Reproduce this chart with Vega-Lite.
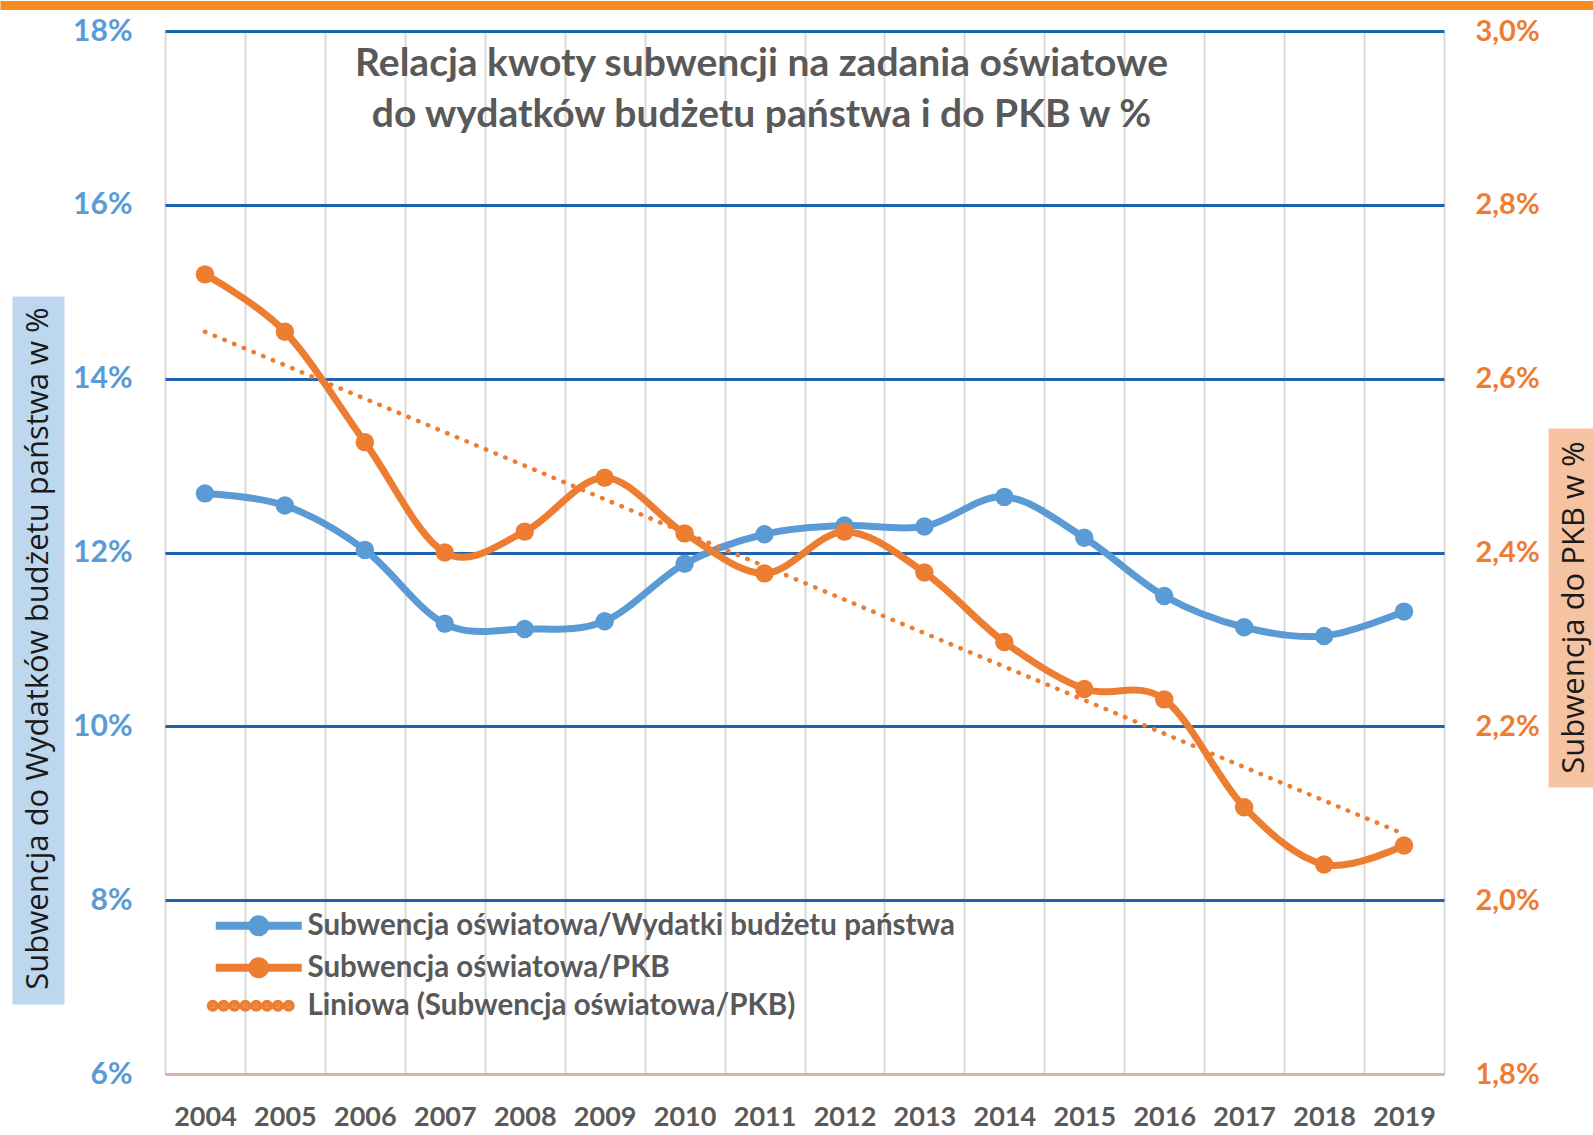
{
  "$schema": "https://vega.github.io/schema/vega-lite/v6.json",
  "width": 1279,
  "height": 1043,
  "autosize": {"type": "none"},
  "padding": {"left": 165, "top": 31, "right": 149, "bottom": 61},
  "background": "white",
  "config": {
    "view": {"stroke": null},
    "font": "Lato",
    "legend": {"symbolLimit": 0}
  },
  "title": {
    "text": ["Relacja kwoty subwencji na zadania oświatowe", "do wydatków budżetu państwa i do PKB w %"],
    "font": "Lato",
    "fontSize": 39,
    "fontWeight": "bold",
    "color": "#595959",
    "anchor": "middle",
    "frame": "group",
    "orient": "top",
    "offset": -134,
    "dx": -43,
    "lineHeight": 51
  },
  "data": {
    "values": [
      {"year": 2004, "series": "Subwencja oświatowa/Wydatki budżetu państwa", "value": 12.68},
      {"year": 2005, "series": "Subwencja oświatowa/Wydatki budżetu państwa", "value": 12.54},
      {"year": 2006, "series": "Subwencja oświatowa/Wydatki budżetu państwa", "value": 12.03},
      {"year": 2007, "series": "Subwencja oświatowa/Wydatki budżetu państwa", "value": 11.18},
      {"year": 2008, "series": "Subwencja oświatowa/Wydatki budżetu państwa", "value": 11.12},
      {"year": 2009, "series": "Subwencja oświatowa/Wydatki budżetu państwa", "value": 11.21},
      {"year": 2010, "series": "Subwencja oświatowa/Wydatki budżetu państwa", "value": 11.87},
      {"year": 2011, "series": "Subwencja oświatowa/Wydatki budżetu państwa", "value": 12.21},
      {"year": 2012, "series": "Subwencja oświatowa/Wydatki budżetu państwa", "value": 12.31},
      {"year": 2013, "series": "Subwencja oświatowa/Wydatki budżetu państwa", "value": 12.30},
      {"year": 2014, "series": "Subwencja oświatowa/Wydatki budżetu państwa", "value": 12.64},
      {"year": 2015, "series": "Subwencja oświatowa/Wydatki budżetu państwa", "value": 12.17},
      {"year": 2016, "series": "Subwencja oświatowa/Wydatki budżetu państwa", "value": 11.50},
      {"year": 2017, "series": "Subwencja oświatowa/Wydatki budżetu państwa", "value": 11.14},
      {"year": 2018, "series": "Subwencja oświatowa/Wydatki budżetu państwa", "value": 11.04},
      {"year": 2019, "series": "Subwencja oświatowa/Wydatki budżetu państwa", "value": 11.32},
      {"year": 2004, "series": "Subwencja oświatowa/PKB", "value": 2.720},
      {"year": 2005, "series": "Subwencja oświatowa/PKB", "value": 2.654},
      {"year": 2006, "series": "Subwencja oświatowa/PKB", "value": 2.527},
      {"year": 2007, "series": "Subwencja oświatowa/PKB", "value": 2.400},
      {"year": 2008, "series": "Subwencja oświatowa/PKB", "value": 2.424},
      {"year": 2009, "series": "Subwencja oświatowa/PKB", "value": 2.486},
      {"year": 2010, "series": "Subwencja oświatowa/PKB", "value": 2.422},
      {"year": 2011, "series": "Subwencja oświatowa/PKB", "value": 2.376},
      {"year": 2012, "series": "Subwencja oświatowa/PKB", "value": 2.424},
      {"year": 2013, "series": "Subwencja oświatowa/PKB", "value": 2.377},
      {"year": 2014, "series": "Subwencja oświatowa/PKB", "value": 2.297},
      {"year": 2015, "series": "Subwencja oświatowa/PKB", "value": 2.243},
      {"year": 2016, "series": "Subwencja oświatowa/PKB", "value": 2.231},
      {"year": 2017, "series": "Subwencja oświatowa/PKB", "value": 2.107},
      {"year": 2018, "series": "Subwencja oświatowa/PKB", "value": 2.041},
      {"year": 2019, "series": "Subwencja oświatowa/PKB", "value": 2.063},
      {"year": 2004, "series": "Liniowa (Subwencja oświatowa/PKB)", "value": 2.654},
      {"year": 2019, "series": "Liniowa (Subwencja oświatowa/PKB)", "value": 2.076}
    ]
  },
  "layer": [
    {
      "transform": [{"filter": "datum.series === 'Subwencja oświatowa/Wydatki budżetu państwa'"}],
      "encoding": {
        "x": {
          "field": "year", "type": "ordinal", "bandPosition": 0.5,
          "scale": {"type": "band", "paddingInner": 0, "paddingOuter": 0},
          "axis": {"orient": "bottom", "tickBand": "extent", "grid": true, "gridColor": "#D9D9D9", "gridWidth": 2, "ticks": false, "domain": true, "domainColor": "#E2B0A8", "domainWidth": 3, "labelFont": "Lato", "labelFontSize": 27, "labelFontWeight": "bold", "labelColor": "#595959", "labelPadding": 30, "labelAngle": 0, "title": null, "labelOverlap": false}
        },
        "y": {
          "field": "value", "type": "quantitative",
          "scale": {"domain": [6, 18], "zero": false, "nice": false},
          "axis": {"orient": "left", "values": [6, 8, 10, 12, 14, 16, 18], "labelExpr": "datum.value + '%'", "grid": true, "gridColor": {"condition": {"test": "datum.value <= 6", "value": "transparent"}, "value": "#1F62B0"}, "gridWidth": 3, "ticks": false, "domain": false, "labelFont": "Lato", "labelFontSize": 30, "labelFontWeight": "bold", "labelColor": "#5B9BD5", "labelPadding": 33, "labelFlush": false, "labelOverlap": false, "labelBaseline": "middle", "title": null}
        }
      },
      "layer": [
        {"mark": {"type": "line", "interpolate": "cardinal", "color": "#5B9BD5", "strokeWidth": 7}},
        {"mark": {"type": "point", "filled": true, "opacity": 1, "size": 340, "color": "#5B9BD5"}}
      ]
    },
    {
      "encoding": {
        "x": {
          "field": "year", "type": "ordinal", "bandPosition": 0.5,
          "scale": {"type": "band", "paddingInner": 0, "paddingOuter": 0},
          "axis": {"orient": "bottom", "tickBand": "extent", "grid": true, "gridColor": "#D9D9D9", "gridWidth": 2, "ticks": false, "domain": true, "domainColor": "#E2B0A8", "domainWidth": 3, "labelFont": "Lato", "labelFontSize": 27, "labelFontWeight": "bold", "labelColor": "#595959", "labelPadding": 30, "labelAngle": 0, "title": null, "labelOverlap": false}
        },
        "y": {
          "field": "value", "type": "quantitative",
          "scale": {"domain": [1.8, 3.0], "zero": false, "nice": false},
          "axis": {"orient": "right", "values": [1.8, 2.0, 2.2, 2.4, 2.6, 2.8, 3.0], "labelExpr": "replace(format(datum.value, '.1f'), '.', ',') + '%'", "grid": false, "ticks": false, "domain": false, "labelFont": "Lato", "labelFontSize": 29, "labelFontWeight": "bold", "labelColor": "#ED7D31", "labelPadding": 31, "labelFlush": false, "labelOverlap": false, "labelBaseline": "middle", "title": null}
        }
      },
      "layer": [
        {
          "transform": [{"filter": "datum.series === 'Subwencja oświatowa/PKB'"}],
          "mark": {"type": "line", "interpolate": "cardinal", "color": "#ED7D31", "strokeWidth": 7}
        },
        {
          "transform": [{"filter": "datum.series === 'Subwencja oświatowa/PKB'"}],
          "mark": {"type": "point", "filled": true, "opacity": 1, "size": 340, "color": "#ED7D31"}
        },
        {
          "transform": [{"filter": "datum.series === 'Liniowa (Subwencja oświatowa/PKB)'"}],
          "mark": {"type": "line", "color": "#ED7D31", "strokeWidth": 4.5, "strokeDash": [0.5, 10], "strokeCap": "round"}
        }
      ]
    },
    {
      "mark": {"type": "point", "filled": true, "opacity": 0},
      "encoding": {
        "shape": {
          "field": "series", "type": "nominal",
          "scale": {"domain": ["Subwencja oświatowa/Wydatki budżetu państwa", "Subwencja oświatowa/PKB", "Liniowa (Subwencja oświatowa/PKB)"],
                    "range": ["M-4.3,0L4.3,0M0.65,0A0.65,0.65,0,1,1,-0.65,0A0.65,0.65,0,1,1,0.65,0Z", "M-4.3,0L4.3,0M0.65,0A0.65,0.65,0,1,1,-0.65,0A0.65,0.65,0,1,1,0.65,0Z", "M-4.4,0A0.2,0.2,0,1,1,-4.8,0A0.2,0.2,0,1,1,-4.4,0ZM-3.314,0A0.2,0.2,0,1,1,-3.714,0A0.2,0.2,0,1,1,-3.314,0ZM-2.229,0A0.2,0.2,0,1,1,-2.629,0A0.2,0.2,0,1,1,-2.229,0ZM-1.143,0A0.2,0.2,0,1,1,-1.543,0A0.2,0.2,0,1,1,-1.143,0ZM-0.057,0A0.2,0.2,0,1,1,-0.457,0A0.2,0.2,0,1,1,-0.057,0ZM1.029,0A0.2,0.2,0,1,1,0.629,0A0.2,0.2,0,1,1,1.029,0ZM2.114,0A0.2,0.2,0,1,1,1.714,0A0.2,0.2,0,1,1,2.114,0ZM3.2,0A0.2,0.2,0,1,1,2.8,0A0.2,0.2,0,1,1,3.2,0Z"]},
          "legend": {"orient": "none", "legendX": 79, "legendY": 880, "title": null, "padding": 0, "symbolSize": 400, "symbolOpacity": 1, "symbolStrokeWidth": 8, "labelOffset": 34, "rowPadding": -4, "labelFont": "Lato", "labelFontSize": 29.5, "labelFontWeight": "bold", "labelColor": "#595959", "labelLimit": 0,
            "encode": {"symbols": {"update": {"strokeWidth": {"signal": "datum.value === 'Liniowa (Subwencja oświatowa/PKB)' ? 1.5 : 8"}, "strokeCap": {"value": "round"}, "opacity": {"value": 1}}}}}
        },
        "fill": {
          "field": "series", "type": "nominal",
          "scale": {"domain": ["Subwencja oświatowa/Wydatki budżetu państwa", "Subwencja oświatowa/PKB", "Liniowa (Subwencja oświatowa/PKB)"], "range": ["#5B9BD5", "#ED7D31", "#ED7D31"]},
          "legend": {"orient": "none", "legendX": 79, "legendY": 880, "title": null, "padding": 0, "symbolSize": 400, "symbolOpacity": 1, "symbolStrokeWidth": 8, "labelOffset": 34, "rowPadding": -4, "labelFont": "Lato", "labelFontSize": 29.5, "labelFontWeight": "bold", "labelColor": "#595959", "labelLimit": 0}
        },
        "stroke": {
          "field": "series", "type": "nominal",
          "scale": {"domain": ["Subwencja oświatowa/Wydatki budżetu państwa", "Subwencja oświatowa/PKB", "Liniowa (Subwencja oświatowa/PKB)"], "range": ["#5B9BD5", "#ED7D31", "#ED7D31"]},
          "legend": {"orient": "none", "legendX": 79, "legendY": 880, "title": null, "padding": 0, "symbolSize": 400, "symbolOpacity": 1, "symbolStrokeWidth": 8, "labelOffset": 34, "rowPadding": -4, "labelFont": "Lato", "labelFontSize": 29.5, "labelFontWeight": "bold", "labelColor": "#595959", "labelLimit": 0}
        }
      }
    },
    {
      "mark": {"type": "point", "opacity": 0},
      "encoding": {
        "y": {
          "field": "value", "type": "quantitative",
          "scale": {"domain": [6, 18], "zero": false, "nice": false},
          "axis": {"orient": "left", "offset": 127, "values": [18], "tickOffset": -26.5, "labels": false, "grid": false, "ticks": true, "tickSize": -1560, "tickWidth": 9, "tickColor": "#F68B1F", "domain": true, "domainColor": "#BDD7EE", "domainWidth": 52, "domainDash": [0, 70, 708, 600], "title": "Subwencja do Wydatków budżetu państwa  w %", "titleX": 0, "titleY": 617, "titleAngle": -90, "titleBaseline": "middle", "titleAlign": "center", "titleFont": "Open Sans", "titleFontSize": 31, "titleFontWeight": "normal", "titleColor": "#1A1A1A"}
        }
      }
    },
    {
      "mark": {"type": "point", "opacity": 0},
      "encoding": {
        "y": {
          "field": "value", "type": "quantitative",
          "scale": {"domain": [6, 18], "zero": false, "nice": false},
          "axis": {"orient": "right", "offset": 130, "values": [18], "tickOffset": -26.5, "labels": false, "grid": false, "ticks": true, "tickSize": -1574, "tickWidth": 9, "tickColor": "#F68B1F", "domain": true, "domainColor": "#F5C3A1", "domainWidth": 52, "domainDash": [0, 287, 359, 800], "title": "Subwencja do PKB  w %", "titleX": 0, "titleY": 576, "titleAngle": -90, "titleBaseline": "middle", "titleAlign": "center", "titleFont": "Open Sans", "titleFontSize": 31, "titleFontWeight": "normal", "titleColor": "#1A1A1A"}
        }
      }
    }
  ],
  "resolve": {"scale": {"y": "independent"}, "axis": {"y": "independent"}}
}
